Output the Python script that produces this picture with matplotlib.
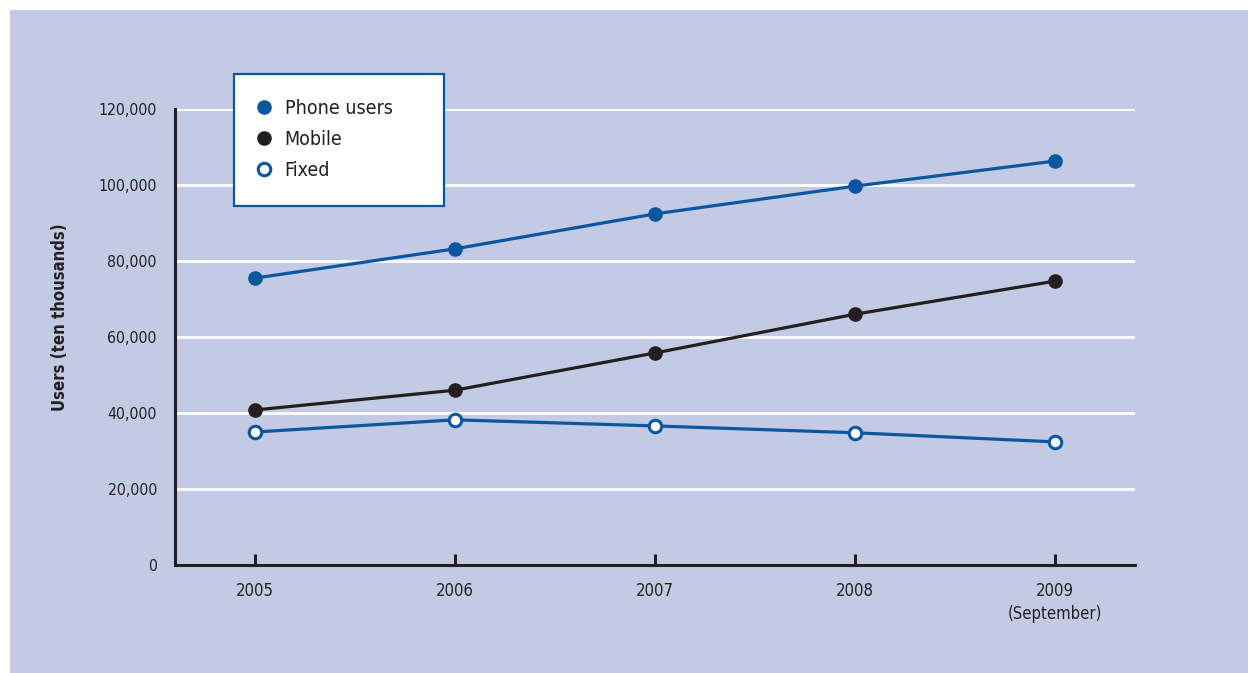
import matplotlib.pyplot as plt
from matplotlib.patches import Rectangle
from matplotlib.ticker import FuncFormatter

years = [2005, 2006, 2007, 2008, 2009]
year_labels = ["2005", "2006", "2007", "2008", "2009\n(September)"]
phone_users = [75500, 83200, 92400, 99700, 106300]
mobile = [40800, 46000, 55800, 66000, 74700]
fixed = [35000, 38200, 36600, 34800, 32400]

blue = "#0b56a0"
dark = "#231f20"
panel = "#c3cbe4"

plt.rcParams["font.family"] = ["Liberation Sans Narrow", "DejaVu Sans"]
plt.rcParams["font.stretch"] = "condensed"

fig = plt.figure(figsize=(12.48, 6.73), dpi=100, facecolor="white")
# tinted panel behind the whole chart
fig.add_artist(Rectangle((10 / 1248, 0), 1238 / 1248, 663 / 673,
                         transform=fig.transFigure, facecolor=panel,
                         edgecolor="none", zorder=-5))

ax = fig.add_axes([175 / 1248, 1 - 565 / 673, 960 / 1248, 456 / 673])
ax.set_facecolor("none")

for y in range(20000, 120001, 20000):
    ax.axhline(y, color="white", lw=2, zorder=1)

ax.plot(years, phone_users, color=blue, lw=2.3, marker="o", ms=9.5,
        mfc=blue, mec=blue, label="Phone users", zorder=3)
ax.plot(years, mobile, color=dark, lw=2.3, marker="o", ms=9.5,
        mfc=dark, mec=dark, label="Mobile", zorder=3)
ax.plot(years, fixed, color=blue, lw=2.3, marker="o", ms=9,
        mfc="white", mec=blue, mew=2.2, label="Fixed", zorder=3)

ax.set_xlim(2004.6, 2009.4)
ax.set_ylim(0, 120000)
ax.set_yticks(range(0, 120001, 20000))
ax.yaxis.set_major_formatter(FuncFormatter(lambda v, p: f"{int(v):,}"))
ax.set_xticks(years)
ax.set_xticklabels(year_labels, linespacing=1.35)

ax.tick_params(axis="y", length=0, pad=13, labelsize=11.3, labelcolor=dark)
ax.tick_params(axis="x", direction="in", length=8, width=2.2, color=dark,
               pad=12, labelsize=12, labelcolor=dark)

for side in ["top", "right"]:
    ax.spines[side].set_visible(False)
for side in ["left", "bottom"]:
    ax.spines[side].set_color(dark)
    ax.spines[side].set_linewidth(2.2)

ax.set_ylabel("Users (ten thousands)", fontsize=12, fontweight="bold",
              color=dark)
ax.yaxis.set_label_coords(-0.11, 0.544)

leg = ax.legend(loc="upper left", bbox_to_anchor=(0.0615, 0.783, 0.2185, 0.294),
                mode="expand", borderaxespad=0, fontsize=14, frameon=True,
                fancybox=False, framealpha=1, edgecolor=blue,
                handlelength=0.5, handletextpad=0.8, labelspacing=0.62,
                borderpad=1.3)
leg.get_frame().set_linewidth(1.6)
for h in leg.get_lines():
    h.set_linestyle("none")
for t in leg.get_texts():
    t.set_color(dark)

fig.savefig("out.png", dpi=100, facecolor="white")
